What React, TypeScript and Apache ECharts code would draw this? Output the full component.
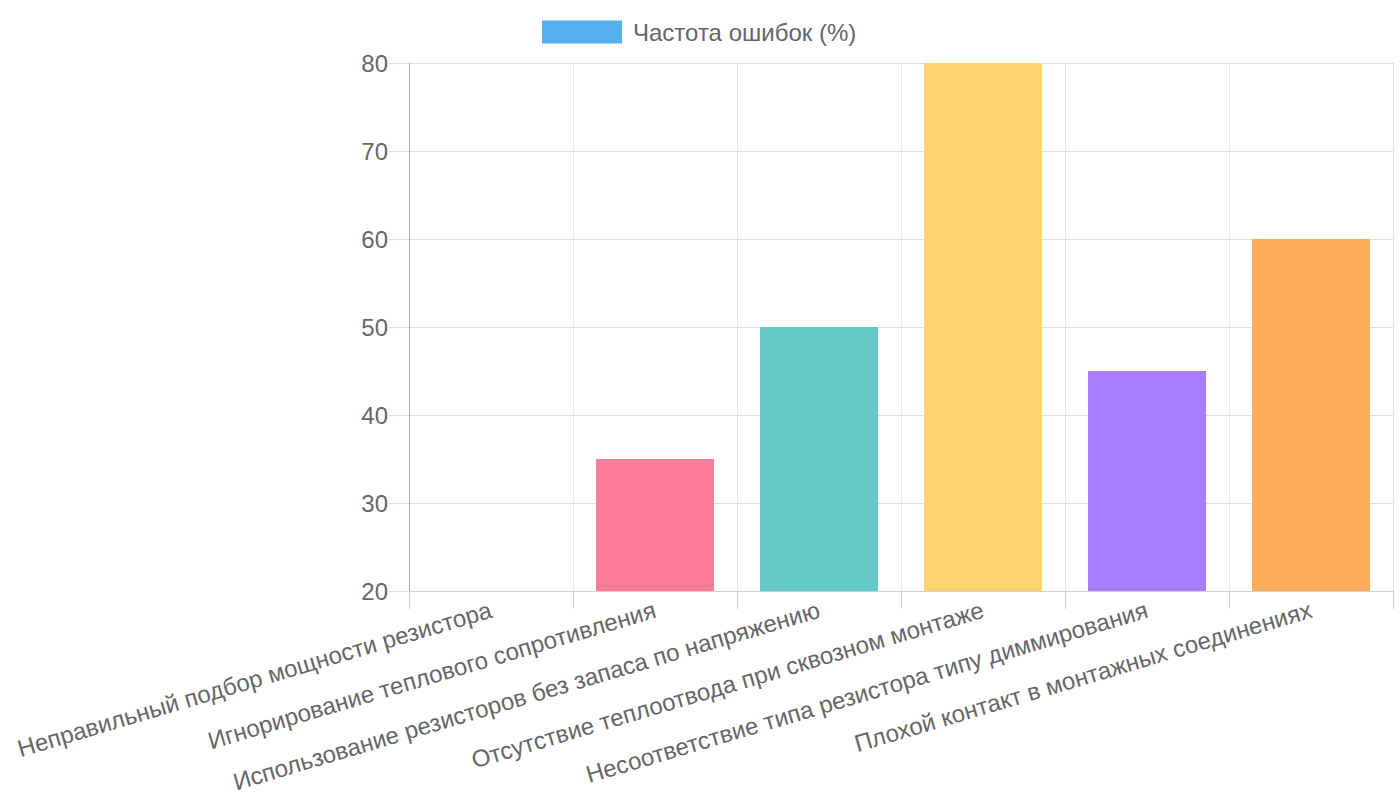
import React, { useEffect, useRef } from "react";
import * as echarts from "echarts";

const categories = [
  "Неправильный подбор мощности резистора",
  "Игнорирование теплового сопротивления",
  "Использование резисторов без запаса по напряжению",
  "Отсутствие теплоотвода при сквозном монтаже",
  "Несоответствие типа резистора типу диммирования",
  "Плохой контакт в монтажных соединениях",
];
const values = [20, 35, 50, 80, 45, 60];
const barColors = ["#54B0EE", "#FF7B96", "#66C9C9", "#FFD56F", "#A87DFF", "#FFAD5C"];
const seriesName = "Частота ошибок (%)";
const yMin = 20;
const yMax = 80;
const yStep = 10;

export default function App() {
  const ref = useRef<HTMLDivElement>(null);
  useEffect(() => {
    if (!ref.current) return;
    const chart = echarts.init(ref.current, null, { renderer: "svg" });
    const font = "'Liberation Sans', Arial, Helvetica, sans-serif";
    chart.setOption({
      animation: false,
      textStyle: { fontFamily: font },
      legend: {
        top: 20,
        left: 542,
        padding: 0,
        itemWidth: 80,
        itemHeight: 23,
        itemGap: 10,
        icon: "rect",
        textStyle: { fontSize: 24, color: "#666", fontFamily: font, padding: [0, 0, 0, 6] },
        data: [seriesName],
      },
      grid: {
        left: 409,
        right: 7,
        top: 63,
        bottom: 209,
        containLabel: false,
        outerBoundsMode: "none",
      },
      xAxis: {
        type: "category",
        data: categories,
        axisLine: { show: true, lineStyle: { color: "#d0d0d0", width: 1 } },
        axisTick: { show: true, length: 18, lineStyle: { color: "#d0d0d0" } },
        splitLine: { show: true, lineStyle: { color: "#e5e5e5", width: 1 } },
        axisLabel: {
          rotate: 16.5,
          margin: 18,
          fontSize: 24,
          color: "#666",
          fontFamily: font,
          interval: 0,
        },
      },
      yAxis: {
        type: "value",
        min: yMin,
        max: yMax,
        interval: yStep,
        axisLine: { show: true, lineStyle: { color: "#aaa", width: 1 } },
        axisTick: { show: true, length: 20, lineStyle: { color: "#e0e0e0" } },
        splitLine: { show: true, lineStyle: { color: "#e0e0e0", width: 1 } },
        axisLabel: { fontSize: 24, color: "#666", margin: 21, fontFamily: font },
      },
      series: [
        {
          name: seriesName,
          type: "bar",
          barWidth: "72%",
          itemStyle: { color: barColors[0] },
          data: values.map((v, i) => ({ value: v, itemStyle: { color: barColors[i] } })),
        },
      ],
    });
    return () => chart.dispose();
  }, []);
  return (
    <div
      ref={ref}
      style={{ position: "fixed", left: 0, top: 0, width: 1400, height: 800, background: "#fff" }}
    />
  );
}
